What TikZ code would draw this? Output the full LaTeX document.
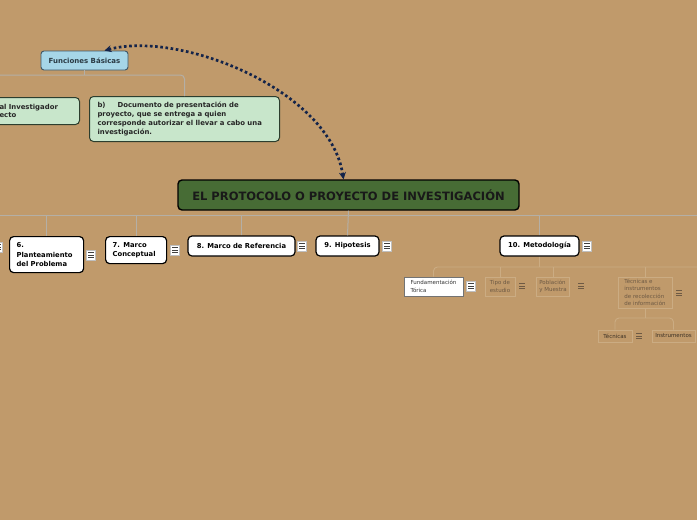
\documentclass[tikz,border=0pt]{standalone}
\usepackage{fontspec}
\setmainfont{DejaVu Sans}
\usepackage{xcolor}
\definecolor{CBg}{HTML}{C09A6B}
\definecolor{CMain}{HTML}{476C35}
\definecolor{CBlueLight}{HTML}{A6D6E8}
\definecolor{CBlueLine}{HTML}{3E5666}
\definecolor{CBlueText}{HTML}{2A3A44}
\definecolor{CGreenLight}{HTML}{C8E6CB}
\definecolor{CGreenLine}{HTML}{2C3E2E}
\definecolor{CNavy}{HTML}{14244A}
\definecolor{CBranch}{HTML}{B4AFA6}
\definecolor{CFaint}{HTML}{CBAC83}
\definecolor{CFaintText}{HTML}{6E5A44}
\usepackage{tikz}
\usetikzlibrary{arrows.meta}
\tikzstyle{mainNode}=[rectangle, rounded corners=4pt, draw=black, fill=CMain, line width=1.4pt,
  minimum width=341, minimum height=30, text=black!90, font=\fontsize{11.5}{13}\selectfont\bfseries]
\tikzstyle{funcNode}=[rectangle, rounded corners=3pt, draw=CBlueLine, fill=CBlueLight, line width=0.9pt,
  text=CBlueText, minimum width=87, minimum height=19, font=\fontsize{7}{8}\selectfont\bfseries]
\tikzstyle{docNode}=[rectangle, rounded corners=4pt, draw=CGreenLine, fill=CGreenLight, line width=1pt,
  inner xsep=4pt, inner ysep=3pt, align=left, text=black!85, font=\fontsize{6.9}{8.8}\selectfont\bfseries]
\tikzstyle{topicNode}=[rectangle, rounded corners=4pt, draw=black, fill=white, line width=1.2pt,
  inner xsep=7pt, inner ysep=3pt, font=\fontsize{6.8}{9.3}\selectfont\bfseries]
\tikzstyle{faintNode}=[rectangle, draw=CFaint, line width=0.9pt, text=CFaintText, inner xsep=2.5pt,
  inner ysep=2pt, align=left, font=\fontsize{5.5}{7.5}\selectfont]
\tikzstyle{menuIcon}=[rectangle, fill=white, draw=black!25, line width=0.5pt, minimum width=9pt,
  minimum height=10pt, inner sep=0pt, path picture={\foreach \dy in {-2.3,0,2.3}{
  \draw[black!75, line width=0.7pt] ([xshift=-2.6pt,yshift=\dy pt]path picture bounding box.center) -- ++(5.2pt,0);}}]
\tikzstyle{menuFaint}=[rectangle, minimum width=9pt, minimum height=10pt, inner sep=0pt,
  path picture={\foreach \dy in {-2.3,0,2.3}{
  \draw[CFaintText, line width=0.6pt] ([xshift=-2.6pt,yshift=\dy pt]path picture bounding box.center) -- ++(5.2pt,0);}}]
\tikzstyle{branch}=[draw=CBranch, line width=1pt, rounded corners=4pt]
\tikzstyle{branchFaint}=[draw=CFaint, line width=0.9pt, rounded corners=4pt]
\tikzstyle{relArr}=[{Stealth[length=7pt,width=7pt]}-{Stealth[length=7pt,width=7pt]}, draw=CNavy,
  line width=2.7pt, dash pattern=on 2.6pt off 2.6pt]

\begin{document}
\begin{tikzpicture}[x=1pt,y=-1pt]
\path[use as bounding box, fill=CBg] (0,0) rectangle (697,520);
\clip (0,0) rectangle (697,520);

\coordinate (fbL) at (0,75);
\coordinate (busL) at (0,215);
\coordinate (busR) at (697,215);
\coordinate (metR) at (697,267);
\coordinate (tiBus) at (645,318);

\node[funcNode] (funciones) at (84.5,60.5) {Funciones Básicas};
\node[docNode, anchor=north east, text width=76, minimum height=27] (docA) at (80,97) {al Investigador\\ecto};
\node[docNode, anchor=north west, inner xsep=8pt, text width=174, minimum height=45] (docB) at (89,96)
  {b)\hspace{12pt}Documento de presentación de\\proyecto, que se entrega a quien\\corresponde autorizar el llevar a cabo una\\investigación.};
\node[mainNode] (protocolo) at (348.5,195) {EL PROTOCOLO O PROYECTO DE INVESTIGACIÓN};

\node[topicNode, anchor=north west, text width=60, minimum height=36, align=left] (plant) at (9,236) {6.\\Planteamiento\\del Problema};
\node[topicNode, anchor=north west, text width=47, minimum height=27, align=left] (marcoConc) at (105,236) {7. Marco\\Conceptual};
\node[topicNode, minimum width=107, minimum height=20] (marcoRef) at (241.5,246) {8. Marco de Referencia};
\node[topicNode, minimum width=63, minimum height=20] (hipo) at (347.5,246) {9. Hipotesis};
\node[topicNode, minimum width=79, minimum height=20] (metodo) at (539.5,246) {10. Metodología};

\node[menuIcon] (menu5) at (-2,247) {};
\node[menuIcon] (menu6) at (91,255) {};
\node[menuIcon] (menu7) at (175,250) {};
\node[menuIcon] (menu8) at (302,246) {};
\node[menuIcon] (menu9) at (387,246) {};
\node[menuIcon] (menu10) at (587,246) {};

\node[faintNode, fill=white, draw=black!55, text=black!80, minimum width=59, minimum height=19] (fundam) at (433.5,286.5) {Fundamentación\\Tórica};
\node[faintNode, minimum width=30, minimum height=19] (tipo) at (500,286.5) {Tipo de\\estudio};
\node[faintNode, minimum width=32, minimum height=19] (poblacion) at (553,286.5) {Población\\y Muestra};
\node[faintNode, minimum width=54, minimum height=31] (tecInst) at (645,292.5) {Técnicas e\\instrumentos\\de recolección\\de información};
\node[faintNode, text=CFaintText!55!black, minimum width=34, minimum height=12] (tecnicas) at (615,336) {Técnicas};
\node[faintNode, text=CFaintText!55!black, minimum width=43, minimum height=12] (instrum) at (673.5,336) {Instrumentos};

\node[menuIcon] (menuFund) at (471,286) {};
\node[menuFaint] (menuTipo) at (522,286) {};
\node[menuFaint] (menuPobl) at (581,286) {};
\node[menuFaint] (menuTec) at (679,293) {};
\node[menuFaint] (menuTecn) at (639,336) {};

% upper branch
\draw[branch] (fbL) -| (docB.north);
\draw[branch] (funciones.south) -- (funciones.south |- fbL);

% main branch
\draw[branch] (busL) -- (busR);
\draw[branch] (protocolo.south) -- (hipo.north);
\draw[branch] (plant.north) -- (plant.north |- busL);
\draw[branch] (marcoConc.north) -- (marcoConc.north |- busL);
\draw[branch] (marcoRef.north) -- (marcoRef.north |- busL);
\draw[branch] (metodo.north) -- (metodo.north |- busL);

% metodologia branch
\draw[branchFaint] (metR) -| (fundam.north);
\draw[branchFaint] (metodo.south) -- (metodo.south |- metR);
\draw[branchFaint] (tipo.north) -- (tipo.north |- metR);
\draw[branchFaint] (poblacion.north) -- (poblacion.north |- metR);
\draw[branchFaint] (tecInst.north) -- (tecInst.north |- metR);
\draw[branchFaint] (tecInst.south) -- (tiBus);
\draw[branchFaint] (tecnicas.north) |- (tiBus) -| (instrum.north);

\draw[relArr] ([xshift=20]funciones.north) .. controls (180,30) and (330,90) .. ([xshift=-5]protocolo.north);
\end{tikzpicture}
\end{document}
